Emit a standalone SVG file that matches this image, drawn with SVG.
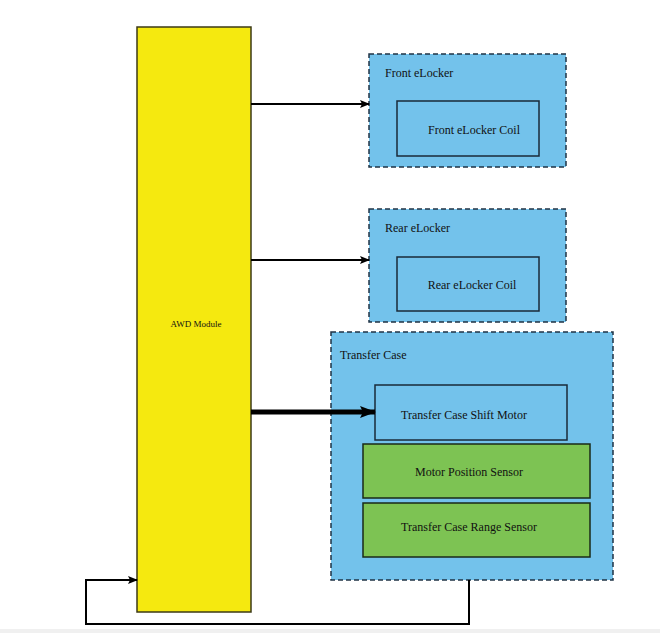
<svg xmlns="http://www.w3.org/2000/svg" width="660" height="633" viewBox="0 0 660 633">
<defs>
<style>
text{font-family:'Liberation Serif','Times New Roman',serif;font-size:12px;fill:#111}
text.small{font-size:9px}
.grp{fill:#73c2eb;stroke:#1f3345;stroke-width:1.5;stroke-dasharray:5 3}
.box{fill:#73c2eb;stroke:#1a2a38;stroke-width:1.5}
.sen{fill:#7dc353;stroke:#1a2a18;stroke-width:1.5}
.ln{fill:none;stroke:#000;stroke-width:2}
</style>
<marker id="ah" markerWidth="10" markerHeight="8" refX="9" refY="4" orient="auto" markerUnits="userSpaceOnUse">
<path d="M0,0 L10,4 L0,8 L2,4 Z" fill="#000"/>
</marker>
<marker id="ahb" markerWidth="16" markerHeight="12" refX="15" refY="6" orient="auto" markerUnits="userSpaceOnUse">
<path d="M0,0 L16,6 L0,12 L3,6 Z" fill="#000"/>
</marker>
</defs>
<rect x="0" y="0" width="660" height="633" fill="#fff"/>
<rect x="0" y="629" width="660" height="4" fill="#f0f0f0"/>
<g id="awd">
<rect x="137" y="27" width="114" height="585" fill="#f5e90f" stroke="#3c3a16" stroke-width="1.5"/>
<text class="small" x="196" y="327" text-anchor="middle">AWD Module</text>
</g>
<g id="front-elocker">
<rect class="grp" x="369" y="54" width="197" height="113"/>
<text x="385" y="77">Front eLocker</text>
<g id="front-coil">
<rect class="box" x="397" y="101" width="142" height="55"/>
<text x="474" y="134" text-anchor="middle">Front eLocker Coil</text>
</g>
</g>
<g id="rear-elocker">
<rect class="grp" x="369" y="209" width="197" height="113"/>
<text x="385" y="232">Rear eLocker</text>
<g id="rear-coil">
<rect class="box" x="397" y="257" width="142" height="54"/>
<text x="472" y="289" text-anchor="middle">Rear eLocker Coil</text>
</g>
</g>
<g id="transfer-case">
<rect class="grp" x="331" y="332" width="282" height="248"/>
<text x="340" y="359">Transfer Case</text>
<g id="shift-motor">
<rect class="box" x="375" y="385" width="192" height="55"/>
<text x="464" y="419" text-anchor="middle">Transfer Case Shift Motor</text>
</g>
<g id="motor-position-sensor">
<rect class="sen" x="363" y="444" width="227" height="54"/>
<text x="469" y="476" text-anchor="middle">Motor Position Sensor</text>
</g>
<g id="range-sensor">
<rect class="sen" x="363" y="503" width="227" height="54"/>
<text x="469" y="531" text-anchor="middle">Transfer Case Range Sensor</text>
</g>
</g>
<g id="connectors">
<path class="ln" d="M251,104 H369" marker-end="url(#ah)"/>
<path class="ln" d="M251,260 H369" marker-end="url(#ah)"/>
<path class="ln" d="M251,412 H375" marker-end="url(#ahb)" style="stroke-width:5"/>
<path class="ln" d="M469,580 V624 H86 V580 H137" marker-end="url(#ah)"/>
</g>
</svg>
